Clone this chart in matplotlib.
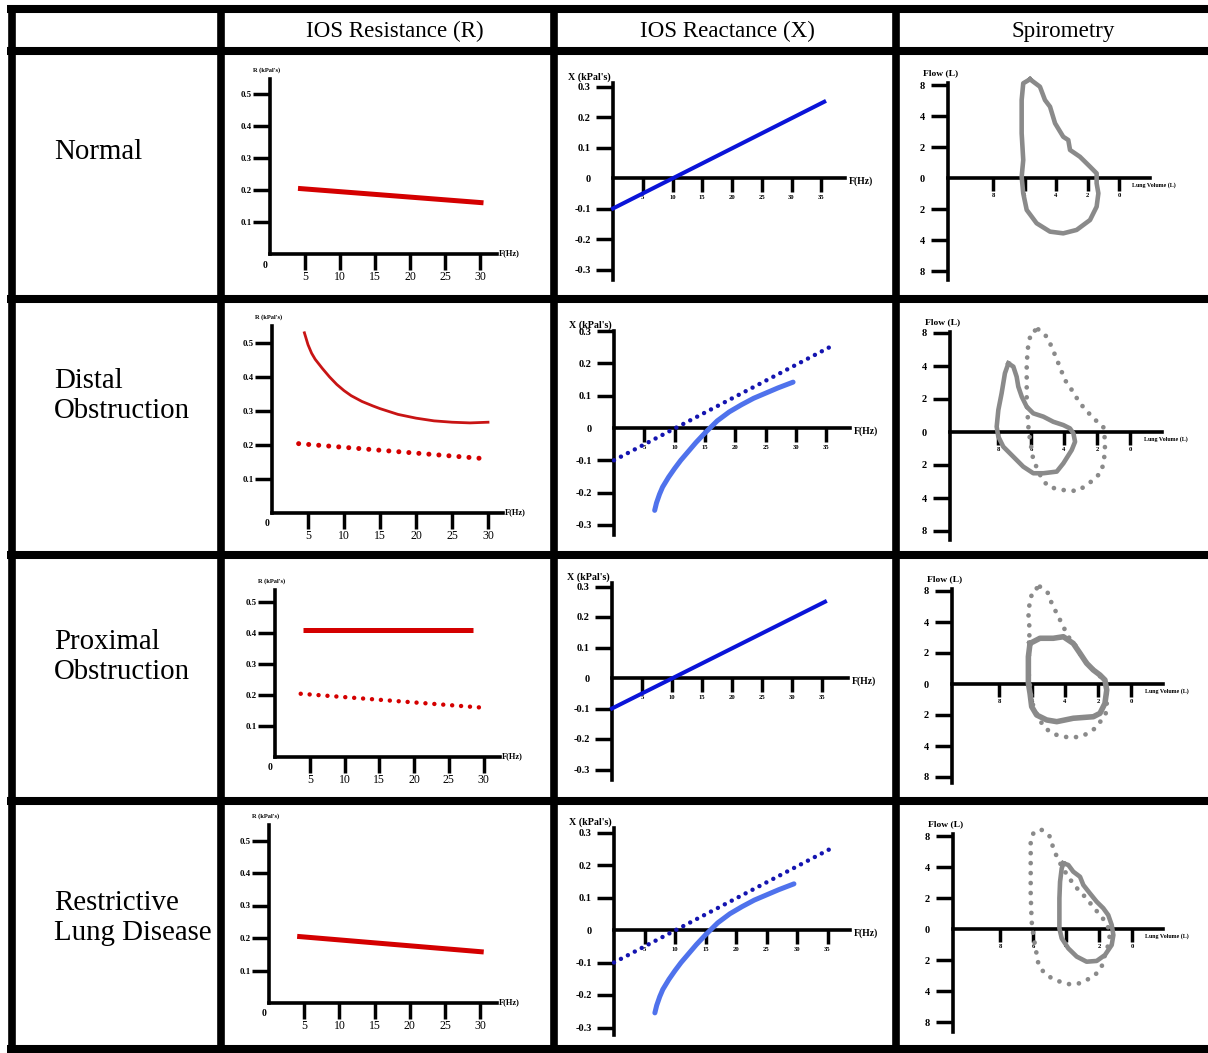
import matplotlib
matplotlib.use('Agg')
import matplotlib.pyplot as plt
from matplotlib.lines import Line2D
import numpy as np

W, H, DPI = 1208, 1053, 100

# ------------------------------------------------------------------ data
row_labels = ["Normal", "Distal\nObstruction", "Proximal\nObstruction", "Restrictive\nLung Disease"]
col_titles = ["IOS Resistance (R)", "IOS Reactance (X)", "Spirometry"]

r_freq_ticks = [5, 10, 15, 20, 25, 30]
r_val_ticks = [0.1, 0.2, 0.3, 0.4, 0.5]
x_freq_ticks = [5, 10, 15, 20, 25, 30, 35]
x_val_ticks = [-0.3, -0.2, -0.1, 0, 0.1, 0.2, 0.3]
spiro_vol_ticks = [8, 6, 4, 2, 0]
spiro_flow_ticks = [6, 4, 2, 0, -2, -4, -6]
spiro_flow_labels = ["8", "4", "2", "0", "2", "4", "8"]

# Resistance (kPa/L/s) vs frequency (Hz)
r_normal_f = [4, 30.5]
r_normal_r = [0.205, 0.16]
r_ref_f = [3.7, 30]
r_ref_r = [0.204, 0.159]
r_distal_f = [4.5, 5, 5.5, 6, 7, 8, 9, 10, 11, 12.5, 14, 15, 17.5, 20, 22.5, 25, 27.5, 30]
r_distal_r = [0.53, 0.495, 0.47, 0.452, 0.425, 0.40, 0.378, 0.36, 0.345, 0.328, 0.315, 0.307,
              0.29, 0.279, 0.271, 0.267, 0.265, 0.267]
r_prox_f = [4, 28.5]
r_prox_r = [0.41, 0.41]
r_restrict_f = [4, 30.5]
r_restrict_r = [0.205, 0.157]

# Reactance (kPa/L/s) vs frequency (Hz)
x_normal_f = [0, 35.5]
x_normal_x = [-0.1, 0.25]
x_curve_f = [6.7, 7.0, 7.5, 8.0, 9.0, 10, 11, 12, 13.5, 15, 17, 19, 21, 23, 25, 27, 29.5]
x_curve_x = [-0.255, -0.232, -0.205, -0.183, -0.152, -0.125, -0.100, -0.078, -0.045, -0.015,
             0.022, 0.050, 0.072, 0.092, 0.108, 0.124, 0.142]

# Spirometry loops (lung volume L, flow L)
sp_normal_v = [5.65, 5.02, 4.70, 4.38, 4.06, 3.54, 3.22, 3.11, 2.48, 1.84, 1.42, 1.42, 1.31, 1.42,
               1.84, 2.69, 3.54, 4.38, 5.23, 5.86, 6.08, 6.18, 6.08, 6.18, 6.18, 6.08]
sp_normal_f = [6.37, 5.89, 5.03, 4.60, 3.53, 2.66, 2.45, 1.81, 1.37, 0.73, 0.30, -0.34, -0.99, -1.85,
               -2.71, -3.35, -3.57, -3.46, -2.92, -2.06, -0.99, 0.08, 1.16, 2.88, 5.03, 6.11]

sp_distal_v = [7.37, 7.07, 6.87, 6.77, 6.56, 6.26, 5.86, 5.25, 4.65, 4.04, 3.64, 3.43, 3.33, 3.53,
               4.04, 4.44, 5.25, 5.86, 6.47, 7.07, 7.68, 7.98, 8.08, 7.98, 7.78, 7.58]
sp_distal_f = [4.16, 3.96, 3.35, 2.75, 2.14, 1.53, 1.13, 0.93, 0.62, 0.42, 0.22, -0.08, -0.59, -1.09,
               -1.90, -2.40, -2.50, -2.50, -2.10, -1.50, -0.89, -0.28, 0.32, 1.33, 2.35, 3.56]
sp_distal_ref_v = [5.56, 5.05, 4.75, 4.34, 3.94, 3.53, 3.03, 2.22, 1.62, 1.52, 1.52, 1.72, 2.22, 3.13,
                   3.74, 4.34, 4.95, 5.35, 5.86, 6.06, 6.16, 6.26, 6.26, 6.16, 5.96]
sp_distal_ref_f = [6.22, 5.78, 5.17, 4.16, 3.15, 2.55, 1.74, 0.83, 0.32, -0.48, -1.29, -2.40, -2.91, -3.56,
                   -3.56, -3.47, -3.31, -2.81, -1.70, -0.48, 0.32, 1.94, 4.16, 5.38, 6.08]

sp_prox_v = [6.12, 5.52, 4.71, 4.10, 3.50, 3.09, 2.69, 2.28, 1.88, 1.58, 1.47, 1.58, 1.88, 2.28,
             3.50, 4.50, 5.11, 5.72, 6.02, 6.12, 6.22, 6.22, 6.22]
sp_prox_f = [2.62, 2.95, 2.95, 3.05, 2.62, 1.98, 1.34, 0.90, 0.58, 0.26, -0.39, -1.25, -1.89, -2.11,
             -2.21, -2.43, -2.32, -2.00, -1.46, -0.60, 0.05, 0.90, 1.76]
sp_prox_ref_v = [5.52, 5.01, 4.81, 4.30, 3.80, 3.39, 2.99, 2.48, 1.98, 1.58, 1.47, 1.47, 1.78, 2.18,
                 2.59, 3.09, 3.70, 4.30, 4.81, 5.32, 5.62, 5.92, 6.08, 6.22, 6.16, 6.16, 6.22, 6.12, 5.92]
sp_prox_ref_f = [6.28, 5.85, 5.21, 4.13, 3.05, 2.52, 1.76, 1.12, 0.58, 0.26, -0.39, -1.78, -2.32, -2.86,
                 -3.18, -3.40, -3.46, -3.35, -3.18, -2.71, -2.11, -1.46, -0.60, 0.90, 2.62, 3.70, 4.56,
                 5.42, 6.06]

sp_restrict_v = [4.16, 3.86, 3.56, 3.15, 2.95, 2.55, 2.14, 1.74, 1.44, 1.23, 1.13, 1.23, 1.64, 2.14,
                 2.75, 3.35, 3.86, 4.26, 4.40, 4.40, 4.40, 4.36, 4.26]
sp_restrict_f = [4.24, 4.13, 3.70, 3.37, 2.84, 2.30, 1.76, 1.34, 0.90, 0.26, -0.39, -1.03, -1.68, -2.06,
                 -2.11, -1.78, -1.25, -0.60, 0.04, 0.90, 1.98, 3.05, 3.91]
sp_restrict_ref_v = [5.47, 4.97, 4.77, 4.47, 4.06, 3.65, 3.25, 2.85, 2.44, 1.94, 1.53, 1.33, 1.44, 1.64,
                     1.84, 2.14, 2.55, 3.15, 3.76, 4.36, 4.87, 5.38, 5.68, 5.88, 5.98, 6.08, 6.14, 6.14,
                     6.14, 5.98]
sp_restrict_ref_f = [6.39, 5.96, 5.21, 4.45, 3.70, 3.05, 2.52, 2.08, 1.55, 0.90, 0.37, -0.28, -1.03, -1.68,
                     -2.43, -2.86, -3.18, -3.50, -3.57, -3.40, -3.18, -2.75, -2.21, -1.03, -0.39, 0.47,
                     2.19, 3.91, 5.63, 6.17]

# ------------------------------------------------------------------ layout (pixels)
H_LINES = [9, 51, 299, 555, 801, 1049]
V_LINES = [11.5, 220.5, 553.5, 896]
ROW_LABEL_Y = [152, 396, 657, 918]
COL_TITLE_X = [395, 727, 1063]

R_GEOM = [
    dict(cell=(224, 55, 550, 295), ox=270, oy=254, sx=7.0, sy=320, top=79, xend=497),
    dict(cell=(224, 303, 550, 551), ox=272, oy=513, sx=7.2, sy=340, top=326, xend=503),
    dict(cell=(224, 559, 550, 797), ox=275, oy=757, sx=6.95, sy=310, top=590, xend=500),
    dict(cell=(224, 805, 550, 1045), ox=269, oy=1003, sx=7.04, sy=325, top=825, xend=497),
]
X_GEOM = [
    dict(cell=(557, 55, 893, 295), ox=613, oy=178, sx=5.95, sy=305, top=83, bot=280, xend=845),
    dict(cell=(557, 303, 893, 551), ox=614, oy=428, sx=6.07, sy=323, top=331, bot=535, xend=850),
    dict(cell=(557, 559, 893, 797), ox=612, oy=678, sx=6.0, sy=305, top=583, bot=780, xend=848),
    dict(cell=(557, 805, 893, 1045), ox=614, oy=930, sx=6.1, sy=325, top=828, bot=1035, xend=850),
]
S_GEOM = [
    dict(cell=(899, 55, 1208, 295), ox=948, oy=178, v0=1119, sx=15.75, sy=15.5, top=83, bot=280, xend=1150),
    dict(cell=(899, 303, 1208, 551), ox=950, oy=432, v0=1130, sx=16.5, sy=16.5, top=332, bot=540, xend=1162),
    dict(cell=(899, 559, 1208, 797), ox=952, oy=684, v0=1131, sx=16.5, sy=15.5, top=589, bot=783, xend=1163),
    dict(cell=(899, 805, 1208, 1045), ox=953, oy=929, v0=1132, sx=16.5, sy=15.5, top=834, bot=1032, xend=1163),
]

RED = '#d40000'
RED2 = '#c81414'
BLUE = '#0a14d8'
BLUE_DOT = '#1414b0'
LBLUE = '#4f72ec'
GRAY = '#8a8a8a'
SERIF = ['Liberation Serif', 'DejaVu Serif']

plt.rcParams['font.family'] = SERIF

fig = plt.figure(figsize=(W / DPI, H / DPI), dpi=DPI)
fig.patch.set_facecolor('white')


def fx(px):
    return px / W


def fy(py):
    return 1 - py / H


# table grid
for y in H_LINES:
    fig.add_artist(Line2D([fx(7), 1.0], [fy(y), fy(y)], color='black', lw=5.8,
                          solid_capstyle='butt', transform=fig.transFigure))
for x in V_LINES:
    fig.add_artist(Line2D([fx(x), fx(x)], [fy(5), 0.0], color='black', lw=5.5,
                          solid_capstyle='butt', transform=fig.transFigure))

for x, t in zip(COL_TITLE_X, col_titles):
    fig.text(fx(x), fy(31), t, ha='center', va='center', fontsize=16.6, family=SERIF)
for y, t in zip(ROW_LABEL_Y, row_labels):
    fig.text(fx(54), fy(y), t, ha='left', va='center', fontsize=20.8, family=SERIF,
             linespacing=1.24)


def make_panel(g, x_origin, xdir, y_lo_px, y_hi_px):
    l, t, r, b = g['cell']
    ox, oy, sx, sy = g['ox'], g['oy'], g['sx'], g['sy']
    ax = fig.add_axes([fx(l), fy(b), (r - l) / W, (b - t) / H])
    ax.set_xlim(x_origin + xdir * (l - ox) / sx, x_origin + xdir * (r - ox) / sx)
    ax.set_ylim((oy - b) / sy, (oy - t) / sy)
    ax.patch.set_visible(False)
    for s in ['top', 'right']:
        ax.spines[s].set_visible(False)
    ax.spines['left'].set_position(('data', x_origin))
    ax.spines['bottom'].set_position(('data', 0))
    ax.spines['left'].set_bounds((oy - y_lo_px) / sy, (oy - y_hi_px) / sy)
    ax.spines['bottom'].set_bounds(x_origin, x_origin + xdir * (g['xend'] - ox) / sx)
    for s in ['left', 'bottom']:
        ax.spines[s].set_linewidth(2.6)
        ax.spines[s].set_capstyle('projecting')
    return ax


def dotted(ax, x, y, color, lw, gap):
    ax.plot(x, y, color=color, lw=lw, linestyle=(0, (0.01, gap)),
            dash_capstyle='round', zorder=3)


# ---------------- Resistance panels
for i, g in enumerate(R_GEOM):
    ax = make_panel(g, 0, 1, g['oy'], g['top'])
    ax.set_xticks(r_freq_ticks, labels=[str(v) for v in r_freq_ticks])
    ax.set_yticks(r_val_ticks, labels=[f"{v:g}" for v in r_val_ticks])
    ax.tick_params(axis='y', direction='out', length=12, width=2.5, pad=1,
                   labelsize=6.3)
    ax.tick_params(axis='x', direction='out', length=11.5, width=2.5, pad=0.5,
                   labelsize=8.5)
    for lab in ax.get_yticklabels():
        lab.set_fontweight('bold')
    ax.annotate("0", xy=(0, 0), xytext=(-5, -11), textcoords='offset pixels',
                ha='center', va='center', fontsize=7, fontweight='bold')
    ytop = (g['oy'] - g['top']) / g['sy']
    xend = (g['xend'] - g['ox']) / g['sx']
    ax.annotate("R (kPal's)", xy=(0, ytop), xytext=(-3, 9), textcoords='offset pixels',
                ha='center', va='center', fontsize=4.6, fontweight='bold')
    ax.annotate("F(Hz)", xy=(xend, 0), xytext=(2, 1), textcoords='offset pixels',
                ha='left', va='center', fontsize=6, fontweight='bold')
    if i == 0:
        ax.plot(r_normal_f, r_normal_r, color=RED, lw=3.6, solid_capstyle='butt')
    elif i == 1:
        ax.plot(r_distal_f, r_distal_r, color=RED2, lw=2.0, solid_joinstyle='round')
        dotted(ax, r_ref_f, r_ref_r, RED, 3.6, 2.0)
    elif i == 2:
        ax.plot(r_prox_f, r_prox_r, color=RED, lw=3.6, solid_capstyle='butt')
        dotted(ax, r_ref_f, r_ref_r, RED, 3.2, 2.0)
    else:
        ax.plot(r_restrict_f, r_restrict_r, color=RED, lw=3.6, solid_capstyle='butt')

# ---------------- Reactance panels
for i, g in enumerate(X_GEOM):
    ax = make_panel(g, 0, 1, g['bot'], g['top'])
    ax.set_xticks(x_freq_ticks, labels=[str(v) for v in x_freq_ticks])
    ax.set_yticks(x_val_ticks, labels=[f"{v:g}" for v in x_val_ticks])
    ax.tick_params(axis='y', direction='out', length=12, width=2.5, pad=4,
                   labelsize=7.5)
    ax.tick_params(axis='x', direction='out', length=10, width=2.5, pad=2.5,
                   labelsize=4.8)
    for lab in ax.get_xticklabels() + ax.get_yticklabels():
        lab.set_fontweight('bold')
    ax.yaxis.get_major_ticks()[x_val_ticks.index(0)].tick1line.set_visible(False)
    ytop = (g['oy'] - g['top']) / g['sy']
    xend = (g['xend'] - g['ox']) / g['sx']
    ax.annotate("X (kPal's)", xy=(0, ytop), xytext=(-24, 6), textcoords='offset pixels',
                ha='center', va='center', fontsize=7.2, fontweight='bold')
    ax.annotate("F(Hz)", xy=(xend, 0), xytext=(4, -3), textcoords='offset pixels',
                ha='left', va='center', fontsize=7, fontweight='bold')
    if i in (0, 2):
        ax.plot(x_normal_f, x_normal_x, color=BLUE, lw=2.9, zorder=3)
    else:
        dotted(ax, x_normal_f, x_normal_x, BLUE_DOT, 3.2, 1.75)
        ax.plot(x_curve_f, x_curve_x, color=LBLUE, lw=3.6, solid_capstyle='round',
                solid_joinstyle='round', zorder=3)

# ---------------- Spirometry panels
solid_loops = [(sp_normal_v, sp_normal_f), (sp_distal_v, sp_distal_f),
               (sp_prox_v, sp_prox_f), (sp_restrict_v, sp_restrict_f)]
ref_loops = [None, (sp_distal_ref_v, sp_distal_ref_f),
             (sp_prox_ref_v, sp_prox_ref_f), (sp_restrict_ref_v, sp_restrict_ref_f)]
for i, g in enumerate(S_GEOM):
    x_origin = (g['v0'] - g['ox']) / g['sx']
    ax = make_panel(g, x_origin, -1, g['bot'], g['top'])
    ax.set_xticks(spiro_vol_ticks, labels=[str(v) for v in spiro_vol_ticks])
    ax.set_yticks(spiro_flow_ticks, labels=spiro_flow_labels)
    ax.tick_params(axis='y', direction='out', length=12, width=2.5, pad=4.5,
                   labelsize=7.5)
    ax.tick_params(axis='x', direction='out', length=9, width=2.5, pad=1.5,
                   labelsize=4.8)
    for lab in ax.get_xticklabels() + ax.get_yticklabels():
        lab.set_fontweight('bold')
    ax.yaxis.get_major_ticks()[spiro_flow_ticks.index(0)].tick1line.set_visible(False)
    ytop = (g['oy'] - g['top']) / g['sy']
    xend = x_origin - (g['xend'] - g['ox']) / g['sx']
    ax.annotate("Flow (L)", xy=(x_origin, ytop), xytext=(-7, 10), textcoords='offset pixels',
                ha='center', va='center', fontsize=6.8, fontweight='bold')
    ax.annotate("Lung Volume (L)", xy=(xend, 0), xytext=(-18, -7), textcoords='offset pixels',
                ha='left', va='center', fontsize=4.3, fontweight='bold')
    if ref_loops[i] is not None:
        rv, rf = ref_loops[i]
        dotted(ax, list(rv) + [rv[0]], list(rf) + [rf[0]], GRAY, 3.4, 2.1)
    sv, sf = solid_loops[i]
    ax.plot(list(sv) + [sv[0]], list(sf) + [sf[0]], color=GRAY, lw=3.3 if i != 2 else 4.0,
            solid_joinstyle='round', zorder=4)

fig.savefig('out.png', dpi=DPI, facecolor='white')
